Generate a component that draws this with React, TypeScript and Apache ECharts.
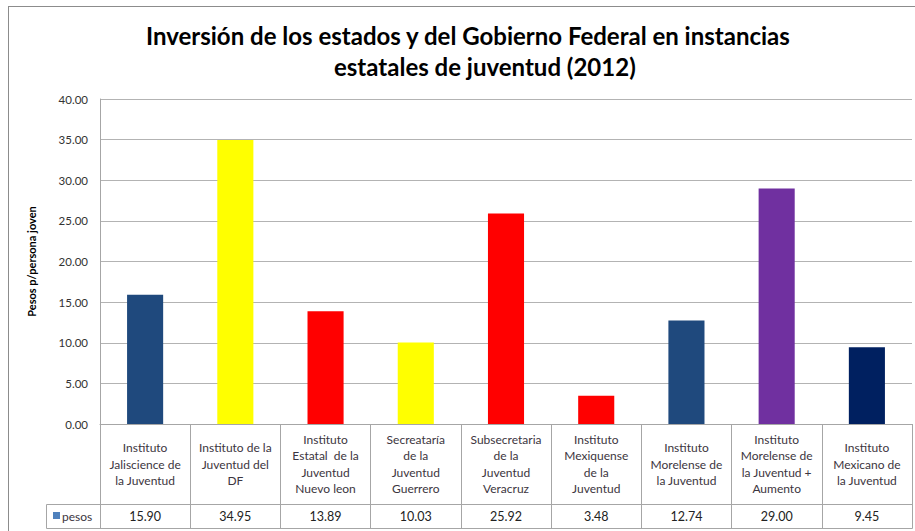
import React, { useEffect, useRef } from "react";
import * as echarts from "echarts";

const titleLines = [
  "Inversión de los estados y del Gobierno Federal en instancias",
  "estatales de juventud (2012)",
];
const yAxisName = "Pesos p/persona joven";
const seriesName = "pesos";
const categories = [
  "Instituto\nJaliscience de\nla Juventud",
  "Instituto de la\nJuventud del\nDF",
  "Instituto\nEstatal  de la\nJuventud\nNuevo leon",
  "Secreataría\nde la\nJuventud\nGuerrero",
  "Subsecretaria\nde la\nJuventud\nVeracruz",
  "Instituto\nMexiquense\nde la\nJuventud",
  "Instituto\nMorelense de\nla Juventud",
  "Instituto\nMorelense de\nla Juventud +\nAumento",
  "Instituto\nMexicano de\nla Juventud",
];
const values = [15.9, 34.95, 13.89, 10.03, 25.92, 3.48, 12.74, 29.0, 9.45];
const barColors = [
  "#1F497D",
  "#FFFF00",
  "#FF0000",
  "#FFFF00",
  "#FF0000",
  "#FF0000",
  "#1F497D",
  "#7030A0",
  "#002060",
];
const yTicks = { min: 0, max: 40, interval: 5 };

const FONT = "Lato, 'Noto Sans', sans-serif";

export default function App() {
  const ref = useRef<HTMLDivElement>(null);
  useEffect(() => {
    document.body.style.margin = "0";
    const chart = echarts.init(ref.current!, null, { renderer: "svg" });
    const titleStyle = {
      fontFamily: FONT,
      fontSize: 24,
      fontWeight: "bold",
      color: "#000",
      lineHeight: 31,
    };
    chart.setOption({
      animation: false,
      backgroundColor: "#ffffff",
      textStyle: { fontFamily: FONT },
      title: [
        { text: titleLines[0], left: 146, top: 20, padding: 0, textStyle: titleStyle },
        { text: titleLines[1], left: 334, top: 51, padding: 0, textStyle: titleStyle },
      ],
      grid: { left: 100, right: 3, top: 99, bottom: 107, containLabel: false },
      xAxis: [
        {
          type: "category",
          data: categories,
          position: "bottom",
          axisLine: { show: true, lineStyle: { color: "#a6a6a6", width: 1 } },
          axisTick: { show: true, interval: 0, length: 80, alignWithLabel: false, lineStyle: { color: "#a6a6a6" } },
          axisLabel: {
            interval: 0,
            margin: 40,
            verticalAlign: "middle",
            fontSize: 12,
            lineHeight: 16.5,
            color: "#3c3540",
            fontFamily: FONT,
          },
        },
        {
          type: "category",
          data: values.map((v) => v.toFixed(2)),
          position: "bottom",
          offset: 80,
          axisLine: { show: true, lineStyle: { color: "#a6a6a6", width: 1 } },
          axisTick: { show: true, interval: 0, length: 24, alignWithLabel: false, lineStyle: { color: "#a6a6a6" } },
          axisLabel: {
            interval: 0,
            margin: 12,
            verticalAlign: "middle",
            fontSize: 12.5,
            color: "#222",
            fontFamily: FONT,
          },
        },
      ],
      yAxis: {
        type: "value",
        min: yTicks.min,
        max: yTicks.max,
        interval: yTicks.interval,
        name: yAxisName,
        nameLocation: "middle",
        nameGap: 63,
        nameRotate: 90,
        nameTextStyle: { fontSize: 11, fontWeight: "bold", color: "#000", fontFamily: FONT },
        axisLine: { show: true, lineStyle: { color: "#a6a6a6" } },
        axisTick: { show: false },
        axisLabel: {
          formatter: (v: number) => v.toFixed(2),
          fontSize: 11.5,
          color: "#333",
          margin: 12,
          fontFamily: FONT,
        },
        splitLine: { show: true, lineStyle: { color: "#b3b3b3", width: 1 } },
      },
      series: [
        {
          name: seriesName,
          type: "bar",
          xAxisIndex: 0,
          barWidth: "40%",
          data: values.map((v, i) => ({ value: v, itemStyle: { color: barColors[i] } })),
        },
      ],
      graphic: [
        {
          type: "line",
          shape: { x1: 8.5, y1: 6, x2: 8.5, y2: 531 },
          style: { stroke: "#8c8c8c", lineWidth: 1 },
          silent: true,
        },
        {
          type: "line",
          shape: { x1: 8, y1: 6.5, x2: 915, y2: 6.5 },
          style: { stroke: "#8c8c8c", lineWidth: 1 },
          silent: true,
        },
        {
          type: "rect",
          shape: { x: 46.5, y: 504.5, width: 866, height: 24 },
          style: { stroke: "#a6a6a6", fill: "none", lineWidth: 1 },
          silent: true,
        },
        {
          type: "rect",
          shape: { x: 53, y: 512, width: 7, height: 7 },
          style: { fill: "#4F81BD" },
          silent: true,
        },
        {
          type: "text",
          x: 62,
          y: 516,
          style: {
            text: seriesName,
            fontSize: 12,
            fontFamily: FONT,
            fill: "#3c3540",
            verticalAlign: "middle",
          },
          silent: true,
        },
      ],
    });
    return () => chart.dispose();
  }, []);
  return <div ref={ref} style={{ position: "absolute", left: 0, top: 0, width: 915, height: 531 }} />;
}
